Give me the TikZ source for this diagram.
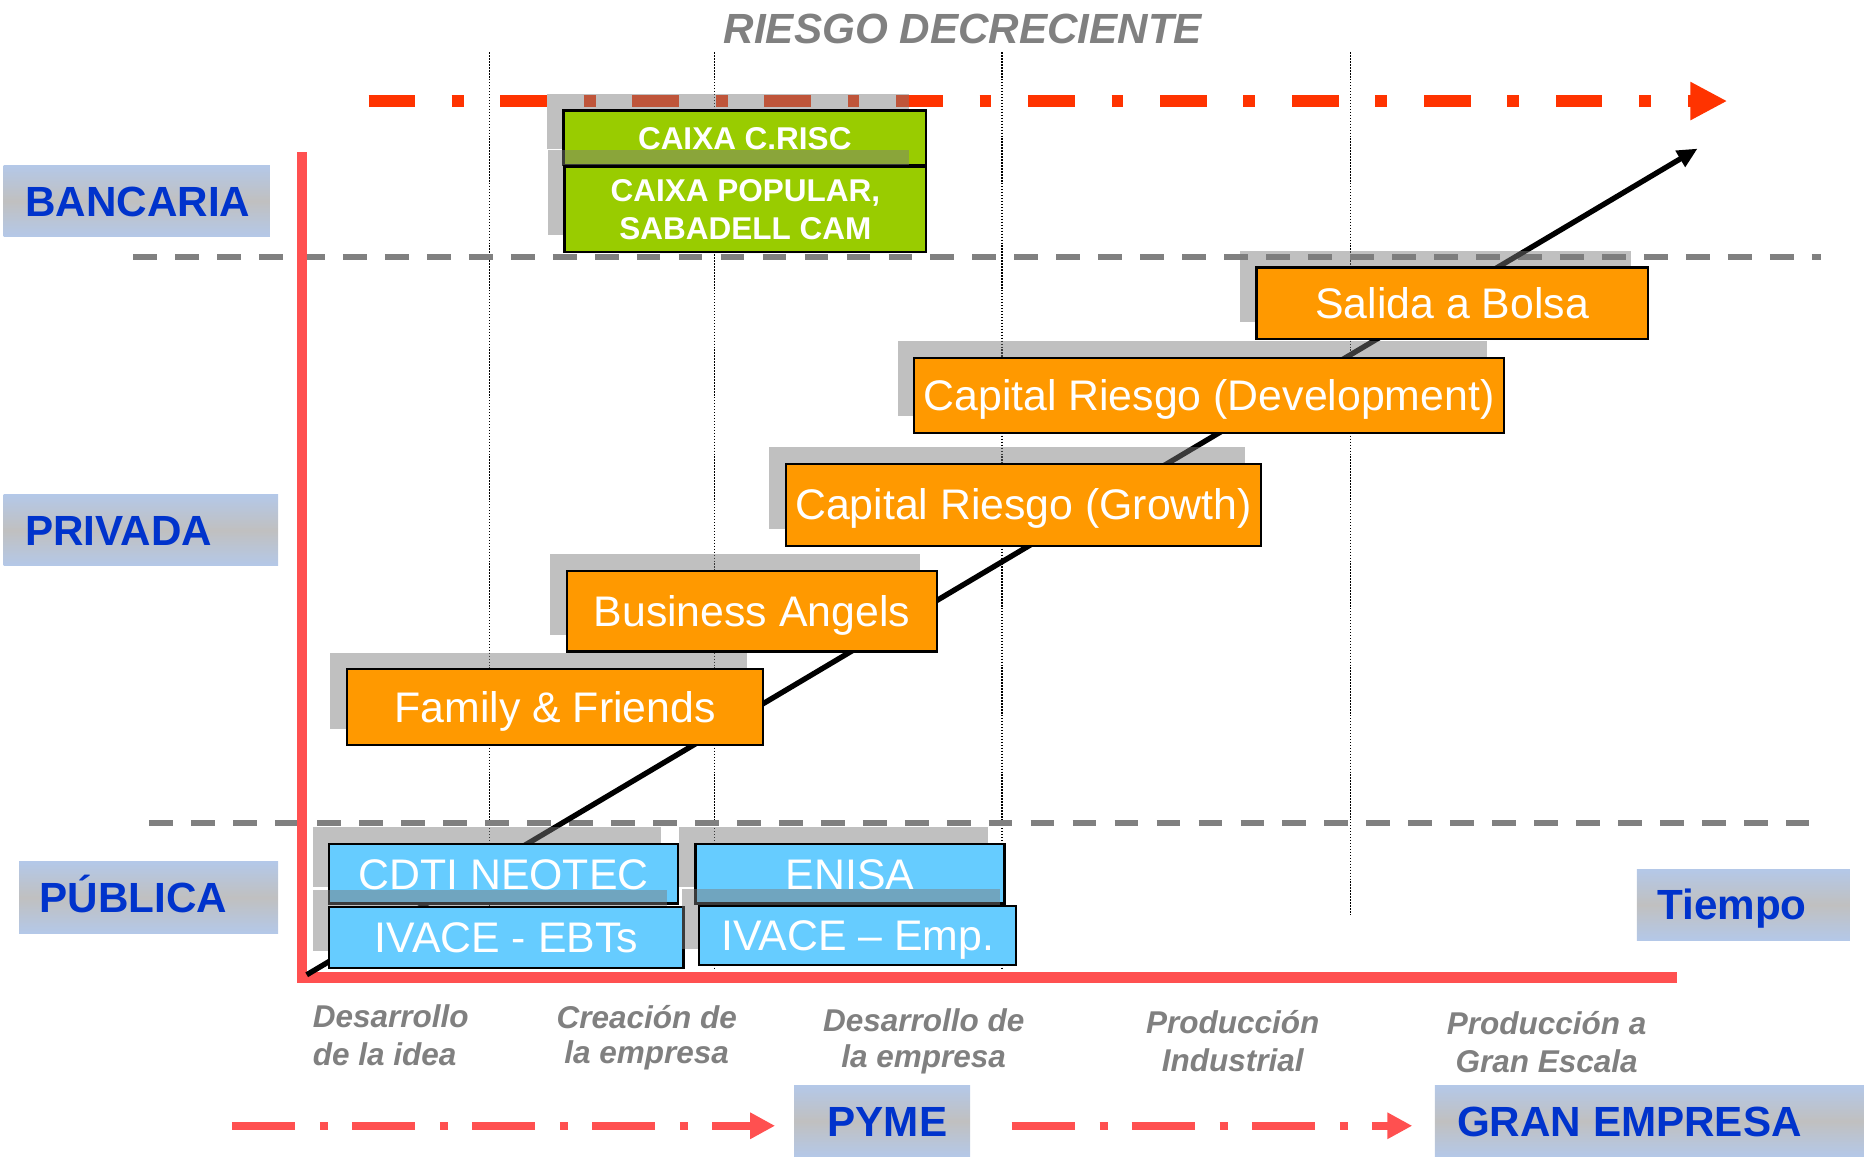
\documentclass[tikz,border=0pt]{standalone}
\usepackage{fontspec}
\setmainfont{Liberation Sans}
\usetikzlibrary{arrows.meta,shadows}
\definecolor{topred}{HTML}{FF3300}
\definecolor{axisred}{HTML}{FF5050}
\definecolor{dashgray}{HTML}{808080}
\definecolor{shadowc}{HTML}{7B7B7B}
\definecolor{caixagreen}{HTML}{99CC00}
\definecolor{boxorange}{HTML}{FF9900}
\definecolor{boxblue}{HTML}{66CCFF}
\definecolor{lblue}{HTML}{B4C8E8}
\definecolor{lgray}{HTML}{C0C0C0}
\definecolor{navy}{HTML}{0033CC}
\definecolor{stagegray}{HTML}{808080}
\begin{document}
\begin{tikzpicture}[x=1pt,y=-1pt,
  boxshadow/.style={shadow xshift=-14pt, shadow yshift=14pt,
    general shadow={fill=shadowc, fill opacity=0.48, draw=none}},
  caixabox/.style={boxshadow, draw=black, line width=2pt, fill=caixagreen, inner sep=0pt,
    text=white, font=\fontsize{26.5}{32}\selectfont\bfseries, align=center},
  obox/.style={boxshadow, draw=black, line width=1.8pt, fill=boxorange, inner sep=0pt,
    text=white, font=\fontsize{36}{40}\selectfont, text height=25.8pt, text depth=0pt},
  bbox/.style={boxshadow, draw=black, line width=1.8pt, fill=boxblue, inner sep=0pt,
    text=white, font=\fontsize{36}{40}\selectfont, text height=25.8pt, text depth=0pt},
  lblbox/.style={draw=none, top color=lblue, bottom color=lblue, middle color=lgray, inner sep=0pt},
  lbltext/.style={text=navy, font=\fontsize{35.5}{40}\selectfont\bfseries, inner sep=0pt,
    anchor=west, text height=25.4pt, text depth=0pt},
  stagetext/.style={text=stagegray, font=\fontsize{26.5}{32}\selectfont\bfseries\itshape, inner sep=0pt},
  dotv/.style={line width=1.2pt, black, dash pattern=on 1.2pt off 1.3pt},
  hdash/.style={line width=5pt, dashgray, dash pattern=on 20pt off 15.3pt},
  redline/.style={axisred, line width=7pt, dash pattern=on 53pt off 21pt on 7pt off 20pt,
    -{Triangle[length=21pt,width=21pt]}}
]
\useasboundingbox (0,0) rectangle (1568,976);

% title
\node[font=\fontsize{35.5}{40}\selectfont\bfseries\itshape, text=stagegray, inner sep=0pt, anchor=base]
  (title) at (810,36.4) {RIESGO DECRECIENTE};

% dotted vertical guides
\coordinate (v1t) at (412,44);  \coordinate (v1b) at (412,815);
\coordinate (v2t) at (601,44);  \coordinate (v2b) at (601,815);
\coordinate (v3t) at (843,44);  \coordinate (v3b) at (843,815);
\coordinate (v4t) at (1136,44); \coordinate (v4b) at (1136,770);
\draw[dotv] (v1t) -- (v1b);
\draw[dotv] (v2t) -- (v2b);
\draw[dotv] (v3t) -- (v3b);
\draw[dotv] (v4t) -- (v4b);

% top red arrow
\coordinate (ra1) at (310,85); \coordinate (ra2) at (1453,85);
\draw[topred, line width=10pt, dash pattern=on 39pt off 31pt on 10pt off 31pt,
  -{Triangle[length=31pt,width=30pt]}] (ra1) -- (ra2);

% gray dashed separators
\coordinate (h1a) at (112,216); \coordinate (h1b) at (1532,216);
\coordinate (h2a) at (125.7,692.5); \coordinate (h2b) at (1522,692.5);
\draw[hdash] (h1a) -- (h1b);
\draw[hdash] (h2a) -- (h2b);

% axes
\coordinate (axtop) at (254,128); \coordinate (axcorner) at (254,826.5);
\coordinate (axleft) at (250,822.5); \coordinate (axright) at (1411,822.5);
\draw[axisred, line width=8pt] (axtop) -- (axcorner);
\draw[axisred, line width=9pt] (axleft) -- (axright);

% diagonal arrow
\coordinate (dstart) at (258,820); \coordinate (dend) at (1428,125);
\draw[black, line width=4.5pt, -{Triangle[length=17pt,width=15pt]}] (dstart) -- (dend);

% bancaria boxes
\node[caixabox, minimum width=305pt, minimum height=46pt, text height=19pt, text depth=0pt]
  (crisc) at (626.5,116) {CAIXA C.RISC};
\node[caixabox, minimum width=304pt, minimum height=72pt]
  (cpop) at (627,176) {CAIXA POPULAR,\\SABADELL CAM};

% private boxes
\node[obox, minimum width=329pt, minimum height=60pt] (bolsa) at (1221.5,255) {Salida a Bolsa};
\node[obox, minimum width=496pt, minimum height=63pt] (dev) at (1017,332.5) {Capital Riesgo (Development)};
\node[obox, minimum width=400pt, minimum height=69pt] (growth) at (861,424.5) {Capital Riesgo (Growth)};
\node[obox, minimum width=311pt, minimum height=68pt] (angels) at (632.5,514) {Business Angels};
\node[obox, minimum width=350pt, minimum height=64pt] (family) at (467,595) {Family \& Friends};

% public boxes
\node[bbox, minimum width=293pt, minimum height=50pt] (cdti) at (423.5,735) {CDTI NEOTEC};
\node[bbox, minimum width=260pt, minimum height=50pt] (enisa) at (715,735) {ENISA};
\node[bbox, minimum width=298pt, minimum height=51pt] (ebts) at (426,788.5) {IVACE - EBTs};
\node[bbox, minimum width=267pt, minimum height=50pt] (emp) at (721.5,787) {IVACE – Emp.};

% left / category labels
\node[lblbox, minimum width=224pt, minimum height=60pt] (bancbox) at (115,169) {};
\node[lbltext] (banc) at (21,169.5) {BANCARIA};
\node[lblbox, minimum width=231pt, minimum height=60pt] (privbox) at (118.5,446) {};
\node[lbltext] (priv) at (21,446) {PRIVADA};
\node[lblbox, minimum width=218pt, minimum height=60pt] (pubbox) at (125,755) {};
\node[lbltext] (pub) at (33,755) {PÚBLICA};
\node[lblbox, minimum width=179pt, minimum height=60pt] (tiempobox) at (1466.5,761) {};
\node[lbltext] (tiempo) at (1394,761) {Tiempo};
\node[lblbox, minimum width=148pt, minimum height=60pt] (pymebox) at (742,943) {};
\node[lbltext] (pyme) at (696,943) {PYME};
\node[lblbox, minimum width=361pt, minimum height=60pt] (granbox) at (1387.5,943) {};
\node[lbltext] (gran) at (1225.5,943) {GRAN EMPRESA};

% stage labels
\node[stagetext, anchor=base west] (s1a) at (263,864) {Desarrollo};
\node[stagetext, anchor=base west] (s1b) at (263,896) {de la idea};
\node[stagetext, anchor=base] (s2a) at (544,865) {Creación de};
\node[stagetext, anchor=base] (s2b) at (544,895) {la empresa};
\node[stagetext, anchor=base] (s3a) at (777,868) {Desarrollo de};
\node[stagetext, anchor=base] (s3b) at (777,898) {la empresa};
\node[stagetext, anchor=base] (s4a) at (1037,869) {Producción};
\node[stagetext, anchor=base] (s4b) at (1037,901) {Industrial};
\node[stagetext, anchor=base] (s5a) at (1301,870) {Producción a};
\node[stagetext, anchor=base] (s5b) at (1301,902) {Gran Escala};

% bottom arrows
\coordinate (b1a) at (195,947); \coordinate (b1b) at (652,947);
\coordinate (b2a) at (851,947); \coordinate (b2b) at (1188,947);
\draw[redline] (b1a) -- (b1b);
\draw[redline] (b2a) -- (b2b);
\end{tikzpicture}
\end{document}
